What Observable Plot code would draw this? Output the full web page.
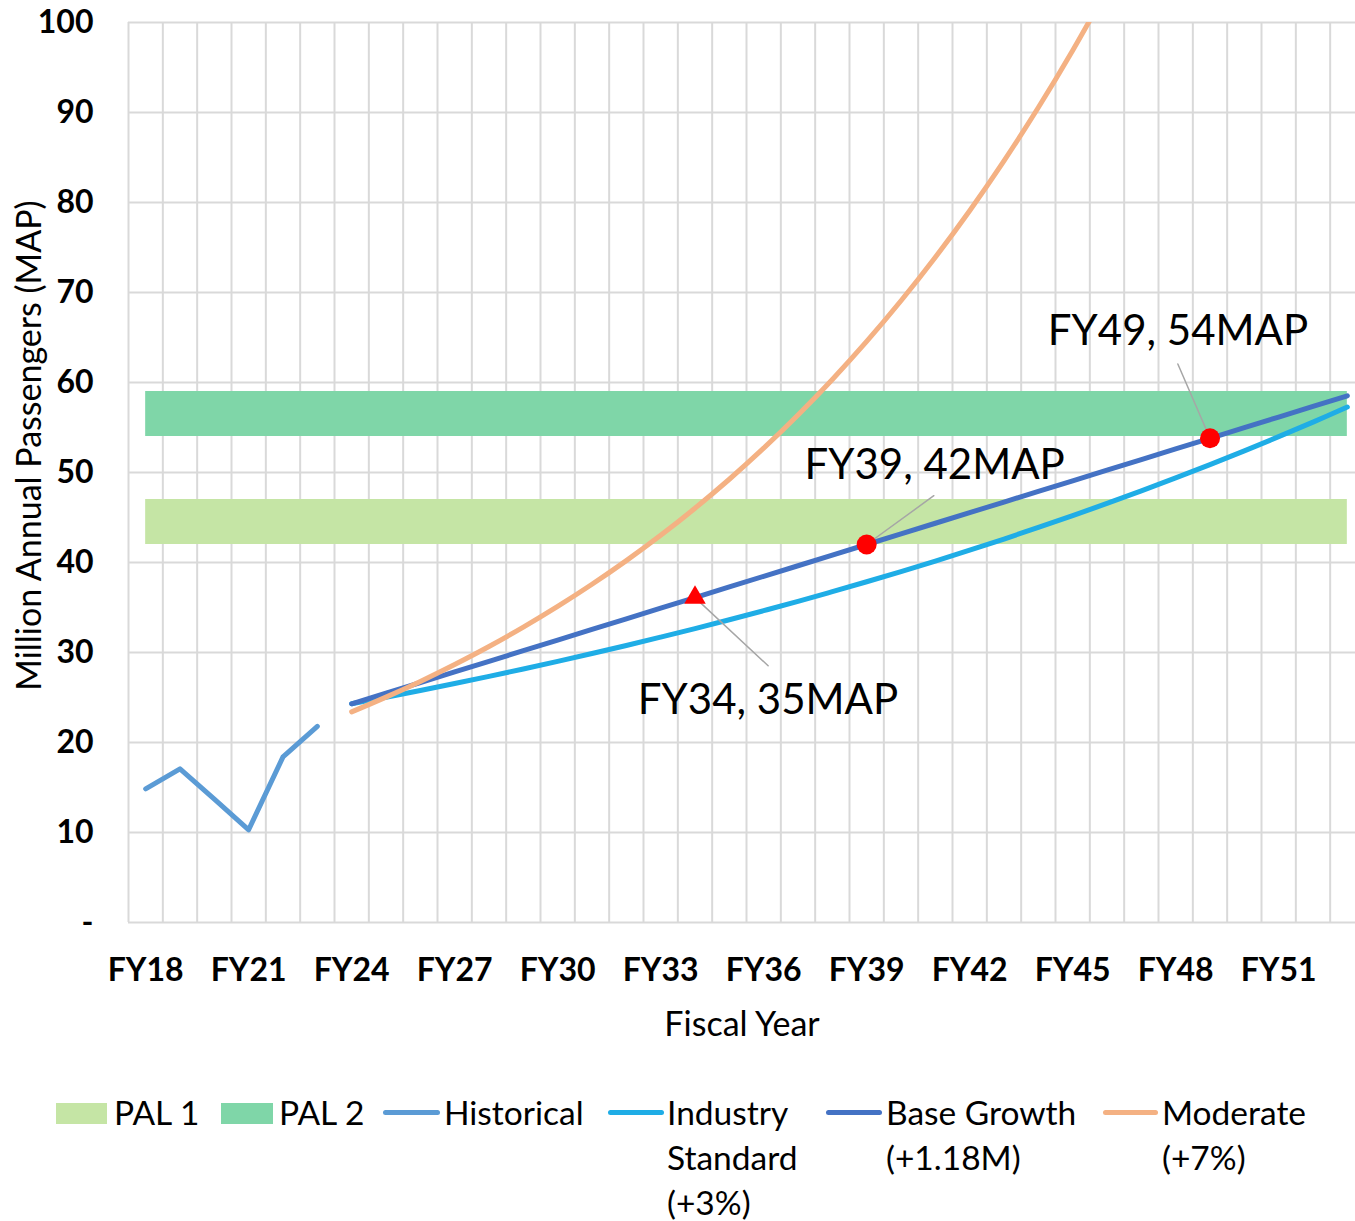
<!DOCTYPE html>
<html><head><meta charset="utf-8">
<script src="https://cdn.jsdelivr.net/npm/d3@7"></script>
<script src="https://cdn.jsdelivr.net/npm/@observablehq/plot@0.6"></script>
<style>
body{margin:0;background:#fff;font-family:Lato,sans-serif;}
#wrap{position:relative;width:1355px;height:1221px;overflow:hidden;background:#fff;}
#chart{position:absolute;left:0;top:0;}
#legend{position:absolute;left:0;top:1090px;width:1355px;height:131px;font-size:33.5px;line-height:45px;color:#000;}
.sw{position:absolute;}
.lt{position:absolute;top:0;white-space:nowrap;}
</style></head>
<body><div id="wrap"><div id="chart"></div><div id="legend"></div></div>
<script>
// ---- data ----
const tickYears = [18, 21, 24, 27, 30, 33, 36, 39, 42, 45, 48, 51];
const yTicks = [0, 10, 20, 30, 40, 50, 60, 70, 80, 90, 100];

const histYears = [18, 19, 20, 21, 22, 23];
const histValues = [14.85, 17.07, 13.7, 10.3, 18.4, 21.8];

const projYears = [24, 25, 26, 27, 28, 29, 30, 31, 32, 33, 34, 35, 36, 37, 38, 39, 40, 41, 42, 43, 44, 45, 46, 47, 48, 49, 50, 51, 52, 53];
const industryValues = [24.30, 25.03, 25.78, 26.55, 27.35, 28.17, 29.02, 29.89, 30.78, 31.71, 32.66, 33.64, 34.65, 35.68, 36.76, 37.86, 38.99, 40.16, 41.37, 42.61, 43.89, 45.21, 46.56, 47.96, 49.40, 50.88, 52.41, 53.98, 55.60, 57.27];
const baseValues = [24.30, 25.48, 26.66, 27.84, 29.02, 30.20, 31.38, 32.56, 33.74, 34.92, 36.10, 37.28, 38.46, 39.64, 40.82, 42.00, 43.18, 44.36, 45.54, 46.72, 47.90, 49.08, 50.26, 51.44, 52.62, 53.80, 54.98, 56.16, 57.34, 58.52];
const moderateYears = [24, 25, 26, 27, 28, 29, 30, 31, 32, 33, 34, 35, 36, 37, 38, 39, 40, 41, 42, 43, 44, 45, 46];
const moderateValues = [23.40, 25.04, 26.79, 28.67, 30.67, 32.82, 35.12, 37.58, 40.21, 43.02, 46.03, 49.25, 52.70, 56.39, 60.34, 64.56, 69.08, 73.92, 79.09, 84.63, 90.55, 96.89, 103.67];

const palNames = ["PAL 1", "PAL 2"];
const palLow = [42, 54];
const palHigh = [47, 59];
const palStart = [18, 18];
const palEnd = [53, 53];

const markerYears = [34, 39, 49];
const markerValues = [36.1, 42.0, 53.8];
const markerLabels = ["FY34, 35MAP", "FY39, 42MAP", "FY49, 54MAP"];

const seriesNames = ["Historical", "Industry Standard (+3%)", "Base Growth (+1.18M)", "Moderate (+7%)"];

// ---- styles ----
const C = {
  pal1: "#c5e5a5", pal2: "#7fd6a8",
  hist: "#5b9bd5", ind: "#1fade6", base: "#4472c4", mod: "#f4b183",
  red: "#ff0000", grid: "#d9d9d9", leader: "#a6a6a6"
};

const hist = histYears.map((y, i) => ({year: y, value: histValues[i]}));
const ind = projYears.map((y, i) => ({year: y, value: industryValues[i]}));
const base = projYears.map((y, i) => ({year: y, value: baseValues[i]}));
const mod = moderateYears.map((y, i) => ({year: y, value: moderateValues[i]}));
const pal = palNames.map((n, i) => ({name: n, x1: palStart[i], x2: palEnd[i], lo: palLow[i], hi: palHigh[i]}));
const markers = markerYears.map((y, i) => ({year: y, value: markerValues[i], label: markerLabels[i]}));

const gridX = d3.range(17.5, 54, 1);
const lineOpts = {x: "year", y: "value", strokeWidth: 5, strokeLinecap: "round", strokeLinejoin: "round"};
const leaderShape = {draw(ctx, l) { ctx.moveTo(0, 0); ctx.lineTo(0, -l); }};

const chart = Plot.plot({
  width: 1355, height: 1060,
  marginLeft: 128, marginTop: 22, marginBottom: 138, marginRight: 0,
  x: {domain: [17.5, 53.5], range: [128, 1364]},
  y: {domain: [0, 100]},
  style: {fontFamily: "Lato, sans-serif", color: "#000", background: "#fff", overflow: "hidden"},
  marks: [
    Plot.ruleX(gridX, {stroke: C.grid, strokeWidth: 2}),
    Plot.ruleY(yTicks, {stroke: C.grid, strokeWidth: 2}),
    Plot.rect([pal[0]], {x1: "x1", x2: "x2", y1: "lo", y2: "hi", fill: C.pal1}),
    Plot.rect([pal[1]], {x1: "x1", x2: "x2", y1: "lo", y2: "hi", fill: C.pal2}),
    Plot.line(hist, {...lineOpts, stroke: C.hist}),
    Plot.line(ind, {...lineOpts, stroke: C.ind, curve: "catmull-rom"}),
    Plot.line(base, {...lineOpts, stroke: C.base}),
    Plot.line(mod, {...lineOpts, stroke: C.mod, curve: "catmull-rom", clip: true}),
    // leader lines
    Plot.vector([markers[0]], {x: "year", y: "value", length: 100, rotate: 133, anchor: "start", shape: leaderShape, stroke: C.leader, strokeWidth: 1.5}),
    Plot.vector([markers[1]], {x: "year", y: "value", length: 83, rotate: 54, anchor: "start", shape: leaderShape, stroke: C.leader, strokeWidth: 1.5}),
    Plot.vector([markers[2]], {x: "year", y: "value", length: 81, rotate: -23.4, anchor: "start", shape: leaderShape, stroke: C.leader, strokeWidth: 1.5}),
    Plot.dot([markers[0]], {x: "year", y: "value", symbol: "triangle", r: 8, fill: C.red}),
    Plot.dot(markers.slice(1), {x: "year", y: "value", symbol: "circle", r: 10, fill: C.red}),
    Plot.text([markers[0]], {x: "year", y: "value", text: "label", dx: 73, dy: 103, fontSize: 42}),
    Plot.text([markers[1]], {x: "year", y: "value", text: "label", dx: 68, dy: -79, fontSize: 42}),
    Plot.text([markers[2]], {x: "year", y: "value", text: "label", dx: -32, dy: -107, fontSize: 42}),
    Plot.axisX({ticks: tickYears, tickFormat: d => "FY" + d, tickSize: 0, tickPadding: 36, fontSize: 32, fontWeight: "bold", label: null}),
    Plot.axisY({ticks: yTicks, tickFormat: d => d === 0 ? "-" : String(d), tickSize: 0, tickPadding: 35, fontSize: 32, fontWeight: "bold", label: null}),
    Plot.text(["Million Annual Passengers (MAP)"], {frameAnchor: "left", textAnchor: "middle", lineAnchor: "middle", rotate: -90, dx: -98, dy: -27, fontSize: 34}),
    Plot.text(["Fiscal Year"], {frameAnchor: "bottom", textAnchor: "middle", lineAnchor: "middle", dy: 103, fontSize: 34})
  ]
});
document.getElementById("chart").appendChild(chart);

// ---- legend ----
const legend = document.getElementById("legend");
const legendItems = [
  {label: palNames[0], kind: "rect", color: C.pal1, sx: 56, sw: 51, tx: 114},
  {label: palNames[1], kind: "rect", color: C.pal2, sx: 221, sw: 52, tx: 279},
  {label: seriesNames[0], kind: "line", color: C.hist, sx: 383, sw: 57, tx: 444, lines: ["Historical"]},
  {label: seriesNames[1], kind: "line", color: C.ind, sx: 608, sw: 56, tx: 667, lines: ["Industry", "Standard", "(+3%)"]},
  {label: seriesNames[2], kind: "line", color: C.base, sx: 826, sw: 56, tx: 886, lines: ["Base Growth", "(+1.18M)"]},
  {label: seriesNames[3], kind: "line", color: C.mod, sx: 1103, sw: 55, tx: 1162, lines: ["Moderate", "(+7%)"]}
];
for (const it of legendItems) {
  const s = document.createElement("div");
  s.className = "sw";
  s.style.left = it.sx + "px";
  s.style.width = it.sw + "px";
  s.style.background = it.color;
  if (it.kind === "rect") { s.style.top = "13px"; s.style.height = "21px"; }
  else { s.style.top = "20px"; s.style.height = "5px"; s.style.borderRadius = "3px"; }
  legend.appendChild(s);
  const t = document.createElement("div");
  t.className = "lt";
  t.style.left = it.tx + "px";
  t.innerHTML = (it.lines || [it.label]).join("<br>");
  legend.appendChild(t);
}
</script>
</body></html>
